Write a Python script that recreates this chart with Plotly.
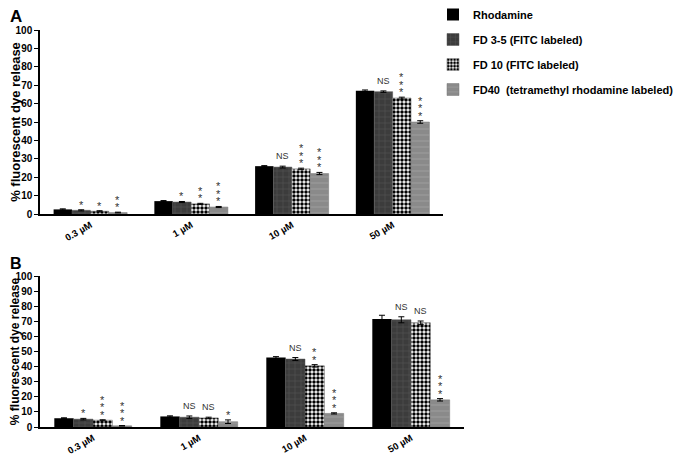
import plotly.graph_objects as go

categories = ["0.3 µM", "1 µM", "10 µM", "50 µM"]
series_names = ["Rhodamine", "FD 3-5 (FITC labeled)", "FD 10 (FITC labeled)",
                "FD40  (tetramethyl rhodamine labeled)"]

# Panel A values
a_rhodamine = [2.5, 7.0, 26.0, 67.0]
a_fd35 = [2.0, 6.5, 25.5, 66.5]
a_fd10 = [1.5, 5.5, 24.5, 63.0]
a_fd40 = [0.8, 3.8, 22.0, 50.0]
a_err_rhodamine = [0.3, 0.3, 0.3, 0.4]
a_err_fd35 = [0.3, 0.3, 0.5, 0.4]
a_err_fd10 = [0.3, 0.3, 0.4, 0.5]
a_err_fd40 = [0.2, 0.3, 0.6, 0.7]
a_sig_fd35 = ["*", "*", "NS", "NS"]
a_sig_fd10 = ["*", "**", "***", "***"]
a_sig_fd40 = ["**", "***", "***", "***"]

# Panel B values
b_rhodamine = [5.8, 7.0, 46.0, 71.5]
b_fd35 = [5.2, 6.5, 45.0, 71.0]
b_fd10 = [4.5, 6.0, 40.5, 69.0]
b_fd40 = [0.8, 3.5, 9.0, 18.0]
b_err_rhodamine = [0.3, 0.4, 0.6, 2.5]
b_err_fd35 = [0.5, 0.8, 1.0, 2.0]
b_err_fd10 = [0.3, 0.5, 0.8, 1.2]
b_err_fd40 = [0.1, 1.2, 0.4, 0.8]
b_sig_fd35 = ["*", "NS", "NS", "NS"]
b_sig_fd10 = ["***", "NS", "**", "NS"]
b_sig_fd40 = ["***", "*", "***", "***"]

y_ticks = [0, 10, 20, 30, 40, 50, 60, 70, 80, 90, 100]

FONT = "Liberation Sans, Arial, sans-serif"
BARGAP = 0.27

# page body has an 8px margin: figure is drawn 8px in from the window corner
W, H, OFF = 688, 446, 8


def px(x):
    return (x - OFF) / W


def py(y):
    return 1 - (y - OFF) / H


markers = [
    dict(color="#000000", line=dict(width=0)),
    dict(color="#3c3c3c", line=dict(width=0.5, color="#555555"),
         pattern=dict(shape="+", fgcolor="#747474", bgcolor="#3c3c3c", size=6, solidity=0.15)),
    dict(color="#ffffff", line=dict(width=0.5, color="#555555"),
         pattern=dict(shape=".", fgcolor="#000000", bgcolor="#ffffff", size=4, solidity=0.6,
                      fillmode="replace")),
    dict(color="#8a8a8a", line=dict(width=0.5, color="#777777"),
         pattern=dict(shape="-", fgcolor="#b4b4b4", bgcolor="#8a8a8a", size=6, solidity=0.15)),
]

panels = [
    ("x", "y", [a_rhodamine, a_fd35, a_fd10, a_fd40],
     [a_err_rhodamine, a_err_fd35, a_err_fd10, a_err_fd40],
     [None, a_sig_fd35, a_sig_fd10, a_sig_fd40], True),
    ("x2", "y2", [b_rhodamine, b_fd35, b_fd10, b_fd40],
     [b_err_rhodamine, b_err_fd35, b_err_fd10, b_err_fd40],
     [None, b_sig_fd35, b_sig_fd10, b_sig_fd40], False),
]

fig = go.Figure()
annotations = []
w = (1 - BARGAP) / 4
for xa, ya, vals, errs, sigs, show in panels:
    for j, name in enumerate(series_names):
        fig.add_trace(go.Bar(
            x=categories, y=vals[j], name=name, xaxis=xa, yaxis=ya,
            marker=markers[j], showlegend=show, legendgroup=name,
            error_y=dict(type="data", array=errs[j], color="#000000", thickness=1, width=3),
        ))
        if sigs[j] is None:
            continue
        off = (j - 1.5) * w
        for i, s in enumerate(sigs[j]):
            top = vals[j][i] + errs[j][i]
            if s == "NS":
                annotations.append(dict(x=i + off, y=top, xref=xa, yref=ya, text="NS",
                                        showarrow=False, yanchor="middle", yshift=10,
                                        font=dict(family=FONT, size=9, color="#333333")))
            else:
                for k in range(len(s)):
                    annotations.append(dict(x=i + off, y=top, xref=xa, yref=ya, text="*",
                                            showarrow=False, yanchor="middle",
                                            yshift=5 + k * 7.5,
                                            font=dict(family=FONT, size=11, color="#333333")))

annotations.append(dict(x=px(8), y=py(16), xref="paper", yref="paper", text="<b>A</b>",
                        showarrow=False, xanchor="left", yanchor="middle",
                        font=dict(family=FONT, size=17, color="#000")))
annotations.append(dict(x=px(8), y=py(263), xref="paper", yref="paper", text="<b>B</b>",
                        showarrow=False, xanchor="left", yanchor="middle",
                        font=dict(family=FONT, size=16, color="#000")))

xcommon = dict(type="category", showline=True, linecolor="#000", linewidth=2, ticks="",
               showgrid=False, tickangle=-30, automargin=False,
               tickfont=dict(family=FONT, size=9.5, color="#000", weight="bold"))
ycommon = dict(range=[0, 100], tickvals=y_ticks, showline=True, linecolor="#000", linewidth=1.5,
               ticks="outside", ticklen=4, tickcolor="#000", showgrid=False, zeroline=False,
               automargin=False,
               tickfont=dict(family=FONT, size=10, color="#000", weight="bold"))

fig.update_layout(
    width=W, height=H, margin=dict(l=0, r=0, t=0, b=0, autoexpand=False),
    paper_bgcolor="white", plot_bgcolor="white",
    barmode="group", bargap=BARGAP, bargroupgap=0,
    xaxis=dict(domain=[px(40), px(443)], anchor="y", **xcommon),
    yaxis=dict(domain=[py(214), py(30)], anchor="x",
               title=dict(text="% fluorescent dye release", standoff=6,
                          font=dict(family=FONT, size=13, color="#000", weight="bold")),
               **ycommon),
    xaxis2=dict(domain=[px(40), px(464)], anchor="y2", **xcommon),
    yaxis2=dict(domain=[py(427), py(276)], anchor="x2",
                title=dict(text="% fluorescent dye release", standoff=6,
                           font=dict(family=FONT, size=12, color="#000", weight="bold")),
                **ycommon),
    legend=dict(x=px(433), y=1 + 8 / H, xanchor="left", yanchor="top", traceorder="grouped",
                tracegroupgap=6, itemwidth=30, bgcolor="rgba(0,0,0,0)",
                font=dict(family=FONT, size=11, color="#000", weight="bold")),
    annotations=annotations,
    font=dict(family=FONT),
)

fig.write_html("out.html")
